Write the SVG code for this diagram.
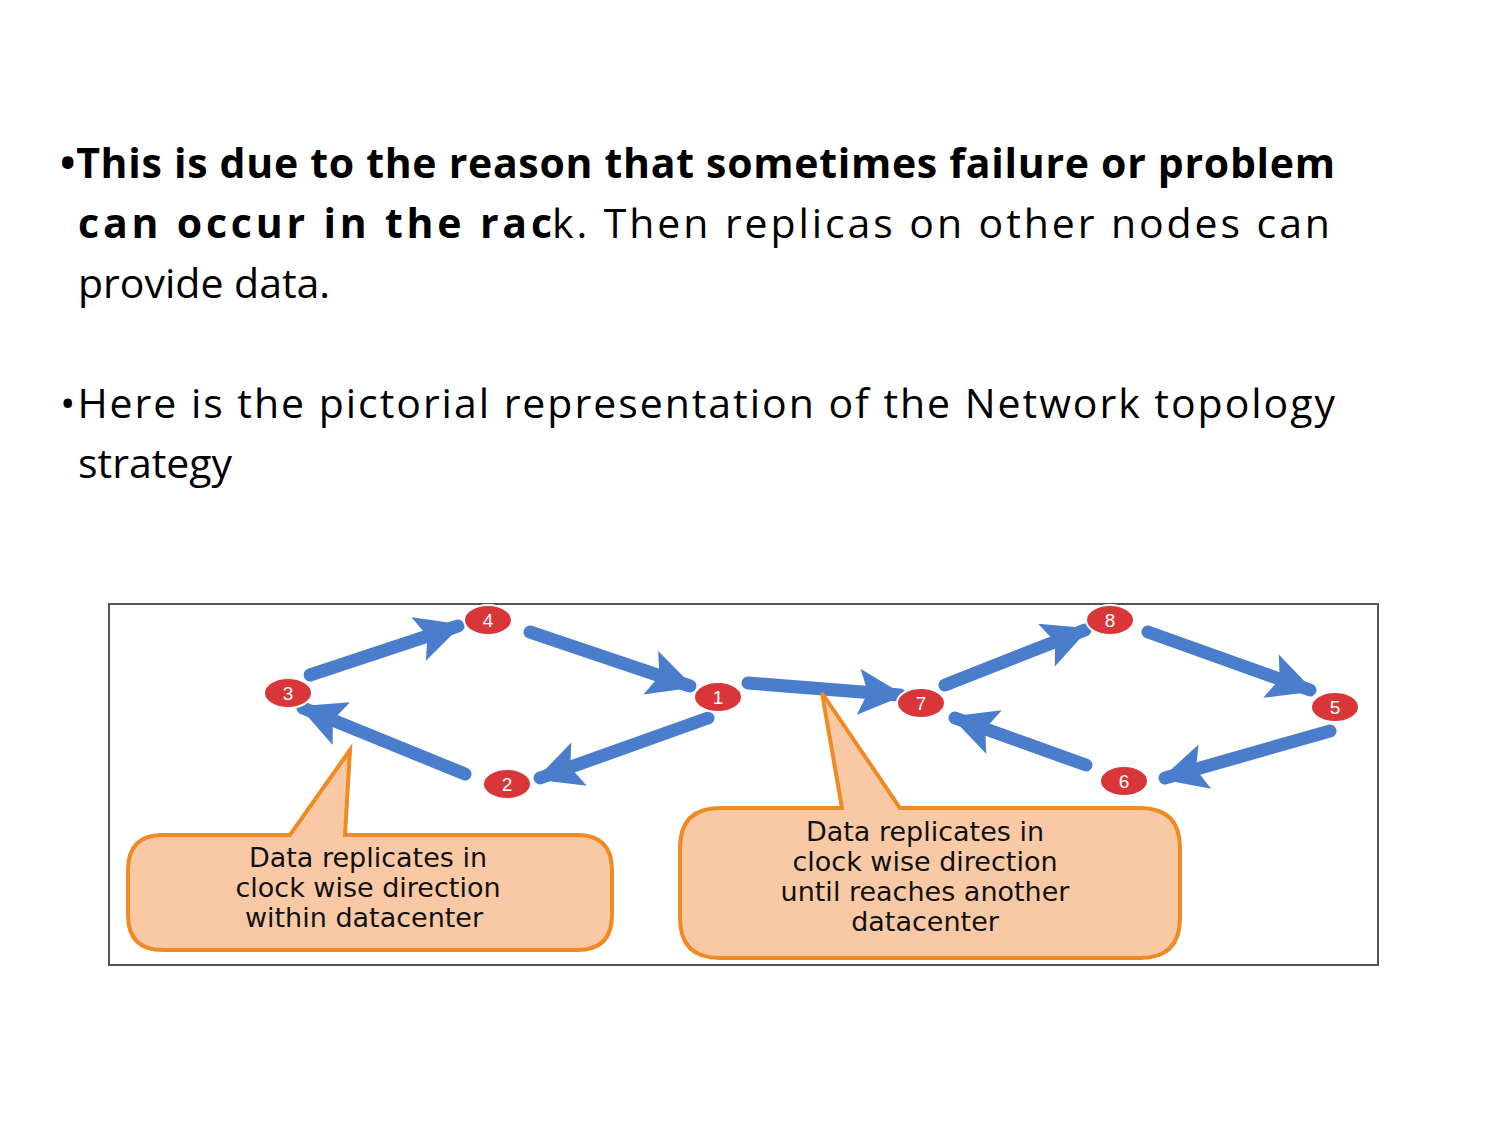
<svg xmlns="http://www.w3.org/2000/svg" width="1500" height="1125" viewBox="0 0 1500 1125">
<style>
.t{font-family:"Open Sans","Liberation Sans",sans-serif;font-size:41px;fill:#000}
.b{font-weight:bold}
.n{fill:#d9363a;stroke:#fff;stroke-width:2}
.nl{font-family:"Liberation Sans",sans-serif;font-size:19px;fill:#fff;text-anchor:middle}
.a{stroke:#4a7dcc;stroke-width:13;stroke-linecap:round;fill:none}
.c{fill:#f9c9a6;stroke:#f08a24;stroke-width:4}
.ct{font-family:"DejaVu Sans",sans-serif;font-size:27px;fill:#111;text-anchor:middle}
</style>
<defs>
<marker id="h" markerUnits="userSpaceOnUse" markerWidth="54" markerHeight="46" viewBox="0 0 10 10" refX="9" refY="5" orient="auto">
<path d="M0,0 L10,5 L0,10 L2,5 z" fill="#4a7dcc"/>
</marker>
</defs>
<rect width="1500" height="1125" fill="#fff"/>
<text class="t b" x="60" y="178" textLength="1275" lengthAdjust="spacing">•This is due to the reason that sometimes failure or problem</text>
<text class="t b" x="78" y="238" textLength="474" lengthAdjust="spacing">can occur in the rac</text>
<text class="t" x="552" y="238" textLength="778" lengthAdjust="spacing">k. Then replicas on other nodes can</text>
<text class="t" x="78" y="298">provide data.</text>
<text class="t" x="60" y="418" textLength="1275" lengthAdjust="spacing">•Here is the pictorial representation of the Network topology</text>
<text class="t" x="78" y="478">strategy</text>
<rect x="109" y="604" width="1269" height="361" fill="#fff" stroke="#555" stroke-width="2"/>
<g id="connectors">
<line class="a" x1="310" y1="675" x2="458" y2="626" marker-end="url(#h)"/>
<line class="a" x1="530" y1="632" x2="690" y2="686" marker-end="url(#h)"/>
<line class="a" x1="708" y1="718" x2="540" y2="778" marker-end="url(#h)"/>
<line class="a" x1="465" y1="774" x2="303" y2="708" marker-end="url(#h)"/>
<line class="a" x1="748" y1="683" x2="900" y2="695" marker-end="url(#h)"/>
<line class="a" x1="945" y1="685" x2="1085" y2="630" marker-end="url(#h)"/>
<line class="a" x1="1148" y1="632" x2="1310" y2="690" marker-end="url(#h)"/>
<line class="a" x1="1330" y1="731" x2="1165" y2="778" marker-end="url(#h)"/>
<line class="a" x1="1086" y1="765" x2="955" y2="718" marker-end="url(#h)"/>
</g>
<g id="n3"><ellipse class="n" cx="288" cy="693" rx="24" ry="15"/><text class="nl" x="288" y="700">3</text></g>
<g id="n4"><ellipse class="n" cx="488" cy="620" rx="24" ry="15"/><text class="nl" x="488" y="627">4</text></g>
<g id="n1"><ellipse class="n" cx="718" cy="697" rx="24" ry="15"/><text class="nl" x="718" y="704">1</text></g>
<g id="n2"><ellipse class="n" cx="507" cy="784" rx="24" ry="15"/><text class="nl" x="507" y="791">2</text></g>
<g id="n7"><ellipse class="n" cx="921" cy="703" rx="24" ry="15"/><text class="nl" x="921" y="710">7</text></g>
<g id="n8"><ellipse class="n" cx="1110" cy="620" rx="24" ry="15"/><text class="nl" x="1110" y="627">8</text></g>
<g id="n5"><ellipse class="n" cx="1335" cy="707" rx="24" ry="15"/><text class="nl" x="1335" y="714">5</text></g>
<g id="n6"><ellipse class="n" cx="1124" cy="781" rx="24" ry="15"/><text class="nl" x="1124" y="788">6</text></g>
<g id="callout1">
<path class="c" d="M163,835 L290,835 L350,750 L345,835 L577,835 Q612,835 612,870 L612,915 Q612,950 577,950 L163,950 Q128,950 128,915 L128,870 Q128,835 163,835 Z"/>
<text class="ct" x="368" y="867">Data replicates in</text>
<text class="ct" x="368" y="897">clock wise direction</text>
<text class="ct" x="364" y="927">within datacenter</text>
</g>
<g id="callout2">
<path class="c" d="M720,808 L842,808 L822,693 L900,808 L1140,808 Q1180,808 1180,848 L1180,918 Q1180,958 1140,958 L720,958 Q680,958 680,918 L680,848 Q680,808 720,808 Z"/>
<text class="ct" x="925" y="841">Data replicates in</text>
<text class="ct" x="925" y="871">clock wise direction</text>
<text class="ct" x="925" y="901">until reaches another</text>
<text class="ct" x="925" y="931">datacenter</text>
</g>
</svg>
